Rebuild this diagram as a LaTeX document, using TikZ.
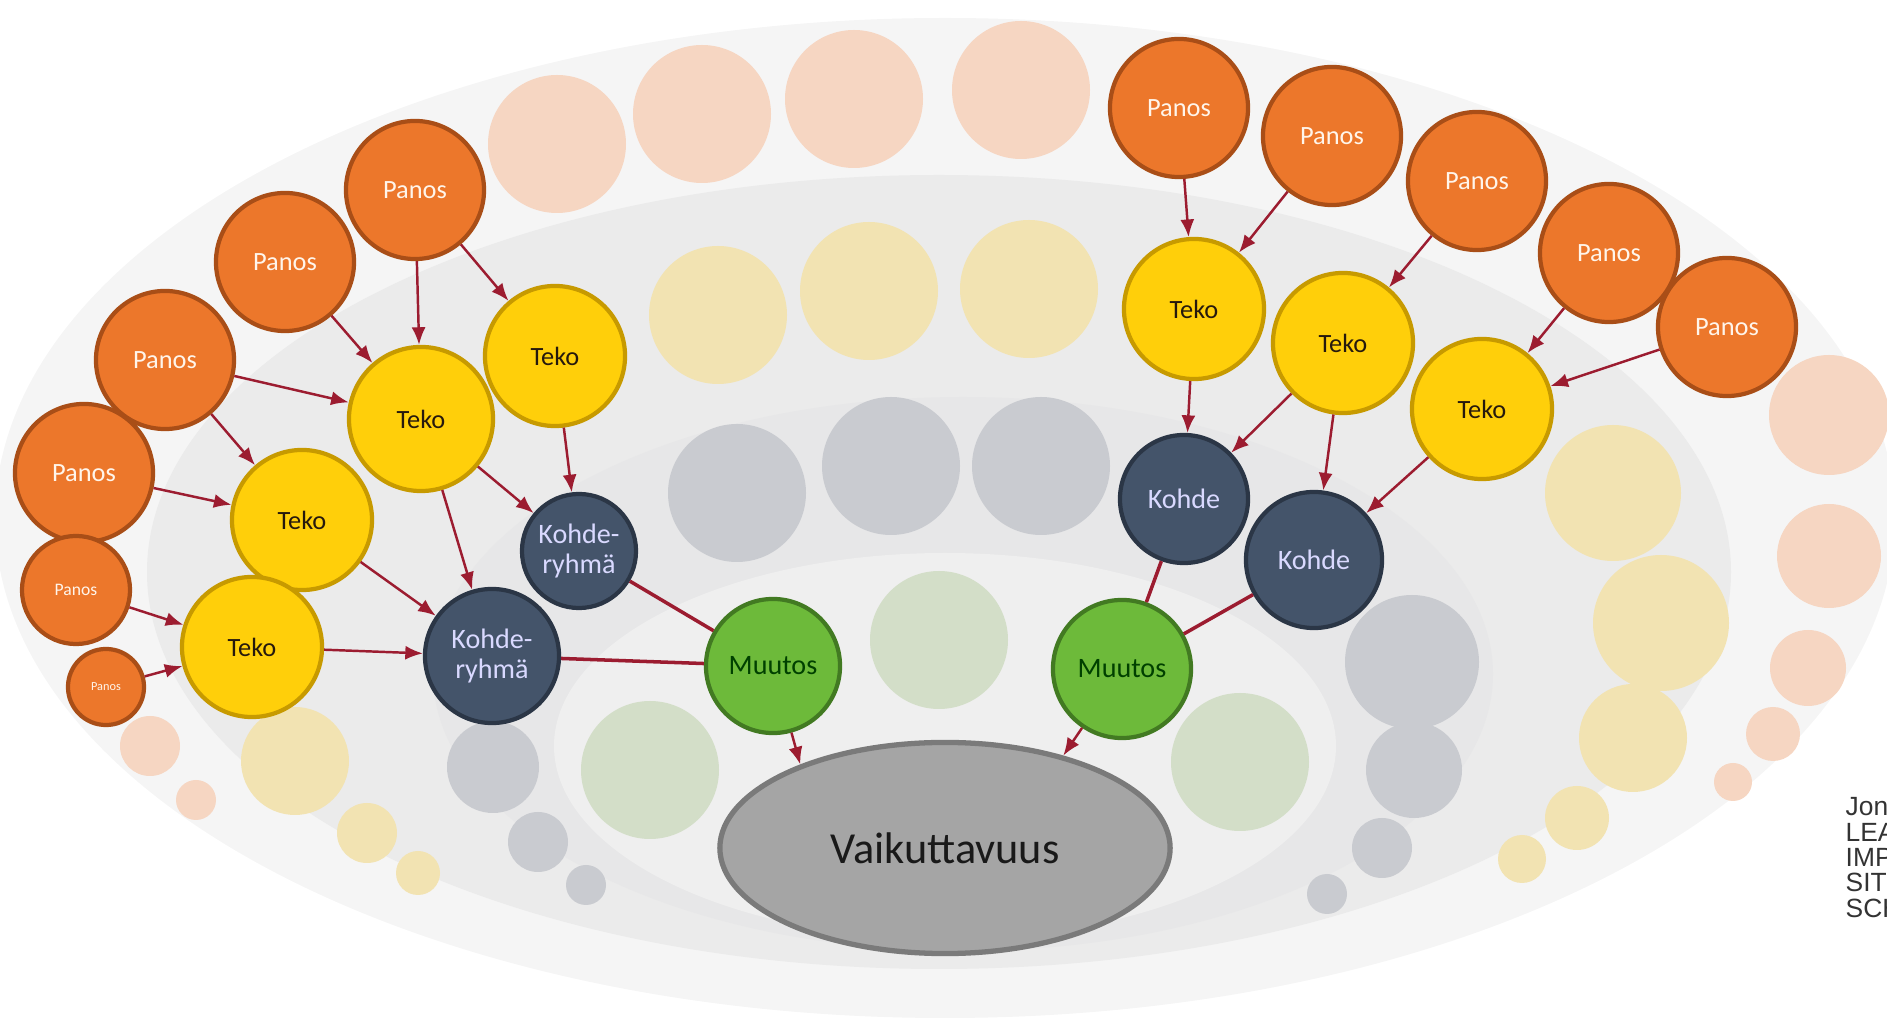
\documentclass[tikz,border=0pt]{standalone}
\usepackage{fontspec}
\setmainfont{Carlito}
\newfontfamily\notefont{Liberation Sans}
\usetikzlibrary{shapes.geometric,arrows.meta}

\definecolor{panosfill}{HTML}{EC772B}
\definecolor{panosline}{HTML}{A94E17}
\definecolor{tekofill}{HTML}{FFCF0A}
\definecolor{tekoline}{HTML}{C79A00}
\definecolor{kohdefill}{HTML}{44546A}
\definecolor{kohdeline}{HTML}{2B3646}
\definecolor{muutosfill}{HTML}{6DBA3A}
\definecolor{muutosline}{HTML}{427A22}
\definecolor{vaikfill}{HTML}{A5A5A5}
\definecolor{vaikline}{HTML}{7A7A7A}
\definecolor{linkred}{HTML}{9C1C30}
\definecolor{bgone}{HTML}{F5F5F5}
\definecolor{bgtwo}{HTML}{EBEBEB}
\definecolor{bgthree}{HTML}{E7E7E8}
\definecolor{bgfour}{HTML}{EFEFEF}
\definecolor{fadepeach}{HTML}{F6D6C2}
\definecolor{fadeyellow}{HTML}{F2E3B2}
\definecolor{fadegrey}{HTML}{C9CBD0}
\definecolor{fadegreen}{HTML}{D3DEC8}

\begin{document}
\begin{tikzpicture}[x=0.01cm, y=-0.01cm,
    panos/.style={circle, draw=panosline, line width=1.2pt, fill=panosfill, text=white!92!orange, minimum size=1.38cm, inner sep=0pt, font=\fontsize{7.5}{8}\selectfont},
    teko/.style={circle, draw=tekoline, line width=1.2pt, fill=tekofill, text=black!80!brown, minimum size=1.4cm, inner sep=0pt, font=\fontsize{7.5}{8}\selectfont},
    kohde/.style={circle, draw=kohdeline, line width=1.2pt, fill=kohdefill, text=white!85!blue, minimum size=1.3cm, inner sep=0pt, align=center, font=\fontsize{8}{8.5}\selectfont},
    muutos/.style={circle, draw=muutosline, line width=1.2pt, fill=muutosfill, text=black!75!green, minimum size=1.34cm, inner sep=0pt, font=\fontsize{8}{8.5}\selectfont},
    vaik/.style={ellipse, draw=vaikline, line width=1.5pt, fill=vaikfill, text=black!90, minimum width=4.5cm, minimum height=2.11cm, inner sep=0pt, font=\fontsize{12.6}{13}\selectfont},
    link/.style={draw=linkred, line width=0.7pt, -{Latex[length=5pt,width=4pt]}},
    plain/.style={draw=linkred, line width=1pt},
    note/.style={anchor=north west, inner sep=0pt, align=left, text=black!80, font=\notefont\fontsize{7.5}{7.2}\selectfont}]
    \useasboundingbox (0,0) rectangle (1887,1025);

    % 背景の楕円
    \fill[bgone] (945,518) ellipse [x radius=950, y radius=500];
    \fill[bgtwo] (939,572) ellipse [x radius=792, y radius=397];
    \fill[bgthree] (963,674) ellipse [x radius=530, y radius=277];
    \fill[bgfour] (945,746) ellipse [x radius=391, y radius=193];

    % 薄い円
    \foreach \x/\y/\r in {557/144/69, 702/114/69, 854/99/69, 1021/90/69, 1829/415/60, 1829/556/52, 1808/668/38, 1773/734/27, 1733/782/19, 150/746/30, 196/800/20}
      \fill[fadepeach] (\x,\y) circle [radius=\r];
    \foreach \x/\y/\r in {718/315/69, 869/291/69, 1029/289/69, 1613/493/68, 1661/623/68, 1633/738/54, 1577/818/32, 1522/859/24, 295/761/54, 367/833/30, 418/873/22}
      \fill[fadeyellow] (\x,\y) circle [radius=\r];
    \foreach \x/\y/\r in {737/493/69, 891/466/69, 1041/466/69, 1412/662/67, 1414/770/48, 1382/848/30, 1327/894/20, 493/767/46, 538/842/30, 586/885/20}
      \fill[fadegrey] (\x,\y) circle [radius=\r];
    \foreach \x/\y/\r in {650/770/69, 939/640/69, 1240/762/69}
      \fill[fadegreen] (\x,\y) circle [radius=\r];

    % 左側のノード
    \node[panos] (P1) at (415,190) {Panos};
    \node[panos] (P2) at (285,262) {Panos};
    \node[panos] (P3) at (165,360) {Panos};
    \node[panos] (P4) at (84,473) {Panos};
    \node[panos, minimum size=1.08cm, font=\fontsize{5}{5.5}\selectfont] (P5) at (76,590) {Panos};
    \node[panos, minimum size=0.76cm, font=\fontsize{3.5}{4}\selectfont] (P6) at (106,687) {Panos};
    \node[teko] (T1) at (555,356) {Teko};
    \node[teko, minimum size=1.44cm] (T2) at (421,419) {Teko};
    \node[teko] (T3) at (302,520) {Teko};
    \node[teko] (T4) at (252,647) {Teko};
    \node[kohde, minimum size=1.14cm] (K1) at (579,551) {Kohde-\\ryhmä};
    \node[kohde, minimum size=1.34cm] (K2) at (492,656) {Kohde-\\ryhmä};
    \node[muutos] (M1) at (773,666) {Muutos};

    % 右側のノード
    \node[panos] (Q1) at (1179,108) {Panos};
    \node[panos] (Q2) at (1332,136) {Panos};
    \node[panos] (Q3) at (1477,181) {Panos};
    \node[panos] (Q4) at (1609,253) {Panos};
    \node[panos] (Q5) at (1727,327) {Panos};
    \node[teko] (U1) at (1194,309) {Teko};
    \node[teko] (U2) at (1343,343) {Teko};
    \node[teko] (U3) at (1482,409) {Teko};
    \node[kohde, minimum size=1.28cm] (R1) at (1184,499) {Kohde};
    \node[kohde, minimum size=1.36cm] (R2) at (1314,560) {Kohde};
    \node[muutos, minimum size=1.38cm] (N1) at (1122,669) {Muutos};

    \node[vaik] (V) at (945,848) {Vaikuttavuus};

    % 左側の矢印
    \draw[link] (P1) -- (T2);
    \draw[link] (P1) -- (T1);
    \draw[link] (P2) -- (T2);
    \draw[link] (P3) -- (T2);
    \draw[link] (P3) -- (T3);
    \draw[link] (P4) -- (T3);
    \draw[link] (P5) -- (T4);
    \draw[link] (P6) -- (T4);
    \draw[link] (T1) -- (K1);
    \draw[link] (T2) -- (K1);
    \draw[link] (T2) -- (K2);
    \draw[link] (T3) -- (K2);
    \draw[link] (T4) -- (K2);
    \draw[plain] (K1) -- (M1);
    \draw[plain] (K2) -- (M1);
    \draw[link] (M1) -- (V.150);

    % 右側の矢印
    \draw[link] (Q1) -- (U1);
    \draw[link] (Q2) -- (U1);
    \draw[link] (Q3) -- (U2);
    \draw[link] (Q4) -- (U3);
    \draw[link] (Q5) -- (U3);
    \draw[link] (U1) -- (R1);
    \draw[link] (U2) -- (R1);
    \draw[link] (U2) -- (R2);
    \draw[link] (U3) -- (R2);
    \draw[plain] (R1) -- (N1);
    \draw[plain] (R2) -- (N1);
    \draw[link] (N1) -- (V.38);

    % 右下のテキスト
    \node[note] (note) at (1845,797) {Jon\\LEA\\IMP\\SIT\\SCH};
\end{tikzpicture}
\end{document}
